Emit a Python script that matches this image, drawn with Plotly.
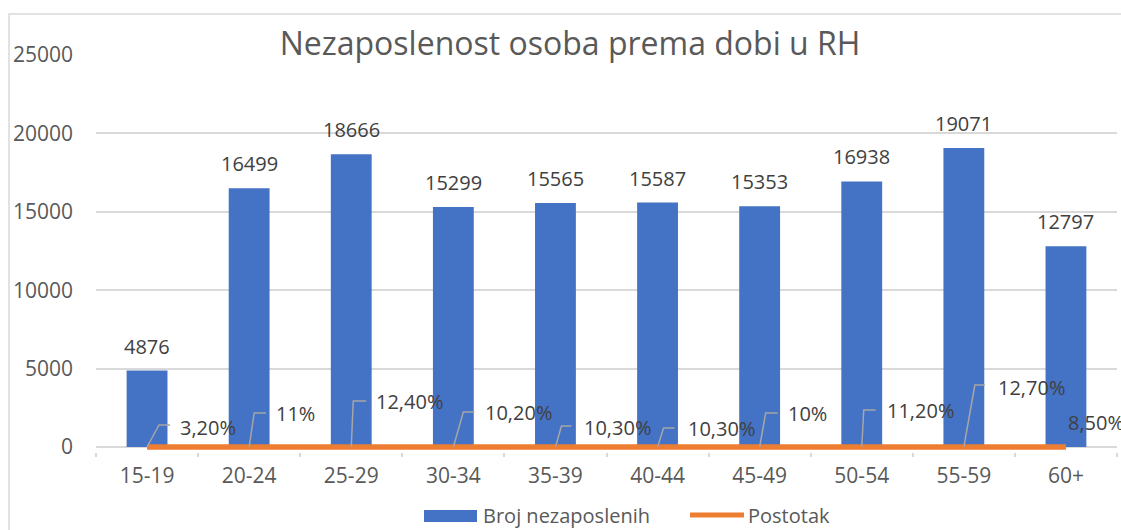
import plotly.graph_objects as go

categories = ["15-19", "20-24", "25-29", "30-34", "35-39", "40-44", "45-49", "50-54", "55-59", "60+"]
broj = [4876, 16499, 18666, 15299, 15565, 15587, 15353, 16938, 19071, 12797]
postotak = [0.032, 0.11, 0.124, 0.102, 0.103, 0.103, 0.10, 0.112, 0.127, 0.085]
postotak_labels = ["3,20%", "11%", "12,40%", "10,20%", "10,30%", "10,30%", "10%", "11,20%", "12,70%", "8,50%"]
y_ticks = [0, 5000, 10000, 15000, 20000, 25000]
y_ticktext = ["0", "5000", "10000", "15000", "20000", "25000"]
series_names = ["Broj nezaposlenih", "Postotak"]

# label placement (pixel offsets from the line point): elbow dx, elbow dy, end dx, text dx, text dy
label_offsets = [
    (12, 22, 23, 31, 20),
    (5, 34, 17, 25, 34),
    (2, 46, 15, 23, 46),
    (10, 35, 21, 30, 35),
    (6, 21, 16, 27, 20),
    (6, 19, 17, 28, 19),
    (6, 34, 18, 26, 34),
    (2, 37, 14, 23, 37),
    (11, 62, 21, 32, 60),
    (None, None, None, 0, 25),
]

BLUE = "#4472C4"
ORANGE = "#ED7D31"
GRID = "#D9D9D9"
TXT = "#595959"
LBL = "#404040"
FONT = "Open Sans"

OFF = 0  # body margin removed via post_script
W, H = 1121, 530
# screen-pixel layout
S_LEFT, S_RIGHT, S_TOP, S_ZERO = 96, 1117, 55, 447
EXTRA = 5  # plot area extends a few px below zero so the thick line is not clipped
L = S_LEFT - OFF
T = S_TOP - OFF
PW = S_RIGHT - S_LEFT
PH = S_ZERO - S_TOP + EXTRA
R = W - L - PW
B = H - T - PH
YMAX = 25000
YMIN = -EXTRA * YMAX / (S_ZERO - S_TOP)


def px_x(p):
    return (p - OFF - L) / PW


def px_y(p):
    return (T + PH - (p - OFF)) / PH


fig = go.Figure()
fig.add_trace(go.Bar(
    x=categories, y=broj, name=series_names[0],
    marker=dict(color=BLUE, line=dict(width=0)),
    showlegend=False,
))
fig.add_trace(go.Scatter(
    x=categories, y=postotak, name=series_names[1], mode="lines",
    line=dict(color=ORANGE, width=5.5), showlegend=False,
))

shapes = []
annotations = []
for cat, v in zip(categories, broj):
    annotations.append(dict(
        x=cat, y=v, xref="x", yref="y", text=str(v), showarrow=False,
        xanchor="center", yanchor="bottom", yshift=9,
        font=dict(family=FONT, size=20, color=LBL),
    ))
for cat, val, lab, off in zip(categories, postotak, postotak_labels, label_offsets):
    edx, edy, endx, tdx, tdy = off
    if edx is not None:
        shapes.append(dict(
            type="path", xref="x", yref="y",
            xsizemode="pixel", ysizemode="pixel", xanchor=cat, yanchor=val,
            path=f"M0,0 L{edx},{edy} L{endx},{edy}",
            line=dict(color="#A6A6A6", width=1.5),
        ))
    annotations.append(dict(
        x=cat, y=val, xref="x", yref="y", text=lab, showarrow=False,
        xanchor="left", yanchor="middle", xshift=tdx, yshift=tdy,
        font=dict(family=FONT, size=20, color=LBL),
    ))

# chart border
shapes.append(dict(
    type="rect", xref="paper", yref="paper",
    x0=px_x(9), x1=px_x(W + 40), y0=px_y(H + 20), y1=px_y(14),
    line=dict(color=GRID, width=1.5), layer="below",
))

# custom legend
shapes.append(dict(type="rect", xref="paper", yref="paper",
                   x0=px_x(424), x1=px_x(477), y0=px_y(522), y1=px_y(510),
                   fillcolor=BLUE, line=dict(width=0)))
shapes.append(dict(type="line", xref="paper", yref="paper",
                   x0=px_x(690), x1=px_x(744), y0=px_y(515), y1=px_y(515),
                   line=dict(color=ORANGE, width=5)))
annotations.append(dict(xref="paper", yref="paper", x=px_x(481), y=px_y(515),
                        text=series_names[0], showarrow=False, xanchor="left", yanchor="middle",
                        font=dict(family=FONT, size=20, color=TXT)))
annotations.append(dict(xref="paper", yref="paper", x=px_x(746), y=px_y(515),
                        text=series_names[1], showarrow=False, xanchor="left", yanchor="middle",
                        font=dict(family=FONT, size=20, color=TXT)))

fig.update_layout(
    width=W, height=H,
    margin=dict(l=L, r=R, t=T, b=B, autoexpand=False),
    paper_bgcolor="white", plot_bgcolor="white",
    title=dict(text="Nezaposlenost osoba prema dobi u RH", x=(570 - OFF) / W, xanchor="center",
               y=1 - (44 - OFF) / H, yanchor="middle",
               font=dict(family=FONT, size=32, color=TXT)),
    font=dict(family=FONT, size=20, color=TXT),
    bargap=0.6,
    showlegend=False,
    shapes=shapes,
    annotations=annotations,
)
fig.update_xaxes(
    type="category", range=[-0.5, len(categories) - 0.5], showgrid=False, showline=False,
    ticks="outside", tickson="boundaries", ticklen=4, tickcolor=GRID, tickwidth=1.5,
    tickfont=dict(family=FONT, size=21, color=TXT), ticklabelstandoff=9, automargin=False,
)
fig.update_yaxes(
    range=[YMIN, YMAX], tickvals=y_ticks, ticktext=y_ticktext, showgrid=True, gridcolor=GRID, gridwidth=1.5,
    zeroline=False, showline=False, ticks="", ticklabelstandoff=22, automargin=False,
    tickfont=dict(family=FONT, size=21, color=TXT),
)

fig.write_html(
    "out.html",
    config={"displayModeBar": False},
    post_script="document.body.style.margin='0';document.body.style.overflow='hidden';",
)
